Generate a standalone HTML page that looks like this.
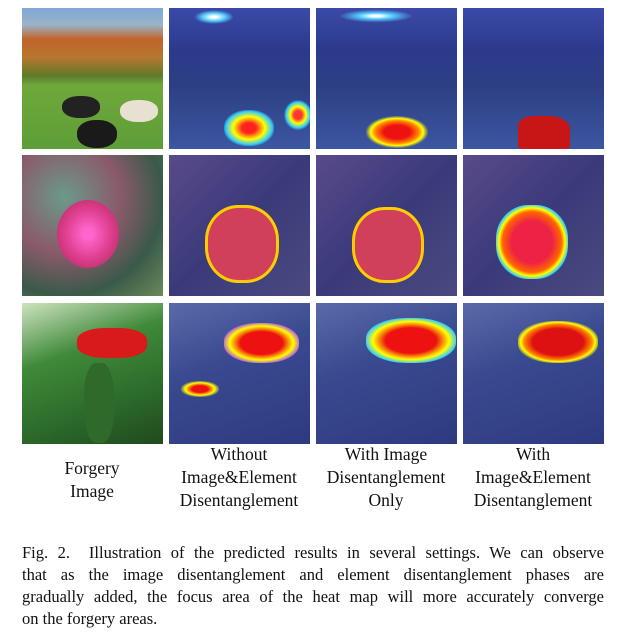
<!DOCTYPE html>
<html><head><meta charset="utf-8">
<style>
body{margin:0;width:619px;height:633px;background:#fff;position:relative;overflow:hidden;font-family:"Liberation Serif",serif;}
.cell{position:absolute;width:141px;height:141px;overflow:hidden;}
.c0{left:22px}.c1{left:169px}.c2{left:316px}.c3{left:463px}
.r0{top:8px}.r1{top:155px}.r2{top:303px}
.lab{position:absolute;top:456px;width:150px;text-align:center;font-size:17.5px;line-height:23px;color:#111;}
.cap{position:absolute;left:22px;top:542px;width:582px;font-size:16.5px;line-height:22px;color:#111;}
.cap div{text-align:justify;text-align-last:justify;white-space:nowrap;}
.cap div.last{text-align-last:left;}
.blob{position:absolute;border-radius:45%;}
</style></head><body>
<!-- Row 1 -->
<div class="cell c0 r0" style="background:linear-gradient(#7fa7d6 0%,#9bb3c8 12%,#c0642a 22%,#b8772e 35%,#5f7a2a 48%,#6ea83a 55%,#5e9e38 100%);">
 <div class="blob" style="left:40px;top:88px;width:38px;height:22px;background:#222;"></div>
 <div class="blob" style="left:98px;top:92px;width:38px;height:22px;background:#e8e0d0;"></div>
 <div class="blob" style="left:55px;top:112px;width:40px;height:28px;background:#1a1a1a;"></div>
</div>
<div class="cell c1 r0" style="background:linear-gradient(#3a4aa8 0%,#2c3a8c 30%,#2d3f84 55%,#3c56a0 100%);">
 <div class="blob" style="left:25px;top:2px;width:40px;height:14px;background:radial-gradient(#fff 10%,#5cf 40%,transparent 70%);"></div>
 <div class="blob" style="left:55px;top:102px;width:50px;height:36px;background:radial-gradient(#f22 20%,#ff0 45%,#3cf 65%,transparent 75%);"></div>
 <div class="blob" style="left:115px;top:92px;width:28px;height:30px;background:radial-gradient(#f33 20%,#ff0 40%,#3cf 60%,transparent 72%);"></div>
</div>
<div class="cell c2 r0" style="background:linear-gradient(#3a4aa8 0%,#2c3a8c 30%,#2d3f84 55%,#3c56a0 100%);">
 <div class="blob" style="left:20px;top:1px;width:80px;height:14px;background:radial-gradient(#fff 8%,#5cf 30%,transparent 65%);"></div>
 <div class="blob" style="left:50px;top:108px;width:62px;height:32px;background:radial-gradient(#e11 30%,#f80 50%,#ff0 60%,transparent 72%);"></div>
</div>
<div class="cell c3 r0" style="background:linear-gradient(#3a4aa8 0%,#2c3a8c 30%,#2d3f84 55%,#3c56a0 100%);">
 <div class="blob" style="left:55px;top:108px;width:52px;height:33px;background:#c81616;border-radius:30% 40% 10% 10%;"></div>
</div>
<!-- Row 2 -->
<div class="cell c0 r1" style="background:radial-gradient(circle at 30% 30%,#6a9a8a,#8a5a6a 40%,#3a5a4a 70%,#6a8a5a);">
 <div class="blob" style="left:35px;top:45px;width:62px;height:68px;background:radial-gradient(#f6c 10%,#e04090 50%,#c03070 80%);border-radius:50%;"></div>
</div>
<div class="cell c1 r1" style="background:linear-gradient(135deg,#5a4a8a,#3a3a7a 50%,#4a4a80);">
 <div class="blob" style="left:36px;top:50px;width:68px;height:72px;background:#d0405a;border:3px solid #fc0;"></div>
</div>
<div class="cell c2 r1" style="background:linear-gradient(135deg,#5a4a8a,#3a3a7a 50%,#4a4a80);">
 <div class="blob" style="left:36px;top:52px;width:66px;height:70px;background:#d0405a;border:3px solid #fc0;"></div>
</div>
<div class="cell c3 r1" style="background:linear-gradient(135deg,#5a4a8a,#3a3a7a 50%,#4a4a80);">
 <div class="blob" style="left:33px;top:50px;width:72px;height:74px;background:radial-gradient(#e24 40%,#f60 58%,#ff0 65%,#3cf 72%,transparent 78%);"></div>
</div>
<!-- Row 3 -->
<div class="cell c0 r2" style="background:linear-gradient(160deg,#cfe3c0,#3f8a3a 35%,#2c6a2a 70%,#1f4a1f);">
 <div class="blob" style="left:55px;top:25px;width:70px;height:30px;background:#d81a1a;border-radius:40%;"></div>
 <div class="blob" style="left:62px;top:60px;width:30px;height:80px;background:#2f6a2a;border-radius:40%;"></div>
</div>
<div class="cell c1 r2" style="background:linear-gradient(160deg,#5a6aa8,#3a4a90 40%,#2e3a80);">
 <div class="blob" style="left:55px;top:20px;width:75px;height:40px;background:radial-gradient(#e11 40%,#ff0 60%,#a4f 75%,transparent 80%);"></div>
 <div class="blob" style="left:12px;top:78px;width:38px;height:16px;background:radial-gradient(#e11 30%,#ff0 55%,transparent 75%);"></div>
</div>
<div class="cell c2 r2" style="background:linear-gradient(160deg,#5a6aa8,#3a4a90 40%,#2e3a80);">
 <div class="blob" style="left:50px;top:15px;width:90px;height:45px;background:radial-gradient(#e11 40%,#ff0 60%,#3cf 72%,transparent 80%);"></div>
</div>
<div class="cell c3 r2" style="background:linear-gradient(160deg,#5a6aa8,#3a4a90 40%,#2e3a80);">
 <div class="blob" style="left:55px;top:18px;width:80px;height:42px;background:radial-gradient(#d11 45%,#f80 60%,#ff0 66%,transparent 76%);"></div>
</div>
<!-- Labels -->
<div class="lab" style="left:17px;top:457px;">Forgery<br>Image</div>
<div class="lab" style="left:164px;top:443px;">Without<br>Image&amp;Element<br>Disentanglement</div>
<div class="lab" style="left:311px;top:443px;">With Image<br>Disentanglement<br>Only</div>
<div class="lab" style="left:458px;top:443px;">With<br>Image&amp;Element<br>Disentanglement</div>
<div class="cap">
<div>Fig. 2.&nbsp; Illustration of the predicted results in several settings. We can observe</div>
<div>that as the image disentanglement and element disentanglement phases are</div>
<div>gradually added, the focus area of the heat map will more accurately converge</div>
<div class="last">on the forgery areas.</div>
</div>
</body></html>
